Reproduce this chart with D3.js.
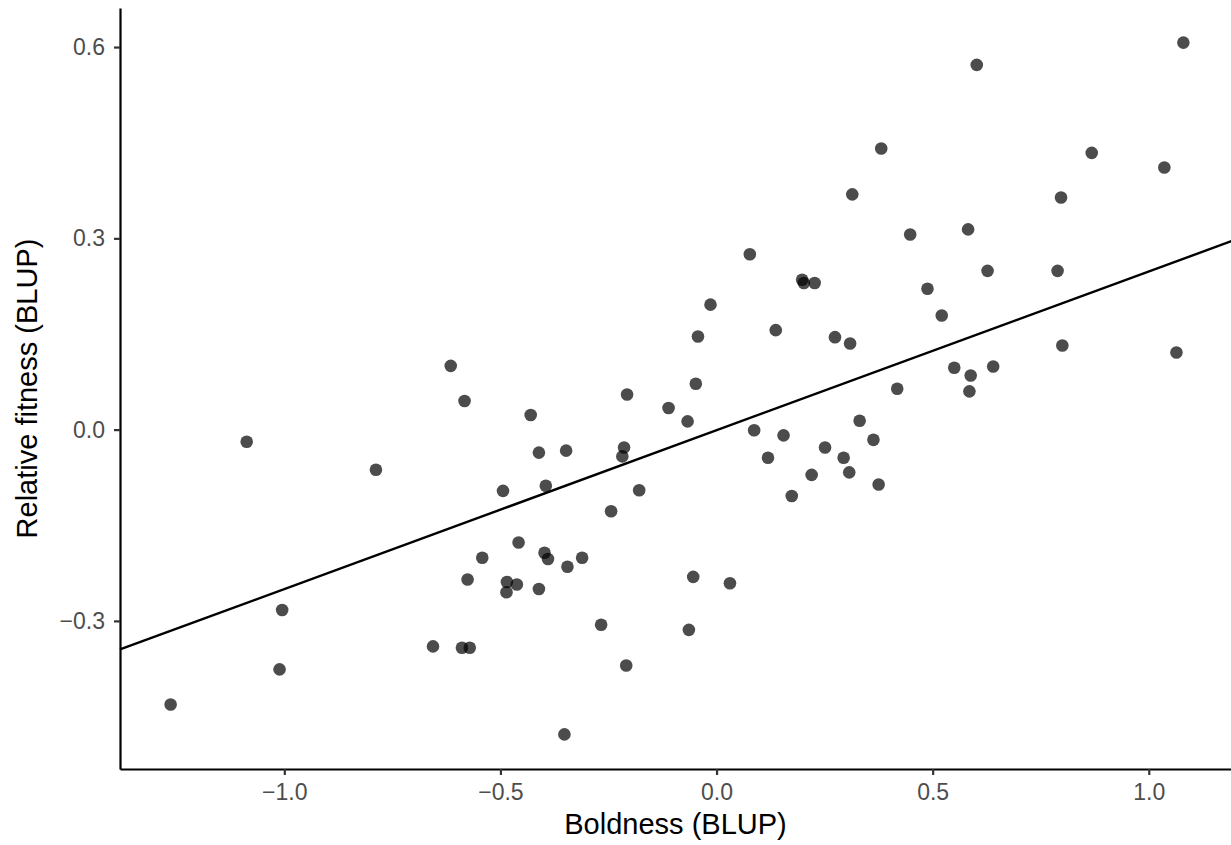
<!DOCTYPE html>
<html>
  <head>
    <meta charset="utf-8">
    <title>boldness fitness</title>
    <script src="https://cdn.jsdelivr.net/npm/d3@7"></script>
    <style>
      body { margin: 0; background: #fff; }
      text { font-family: "Liberation Sans", Arial, sans-serif; }
    </style>
  </head>
  <body>
    <svg width="1231" height="845" id="mainsvg"></svg>
    <script>
      // BLUP estimates
      const boldness = [
        -1.263, -1.087, -1.005, -1.011, -0.788, -0.656, -0.615, -0.583, -0.576, -0.589,
        -0.571, -0.494, -0.485, -0.486, -0.462, -0.458, -0.430, -0.411, -0.395, -0.411,
        -0.398, -0.390, -0.348, -0.345, -0.352, -0.311, -0.267, -0.244, -0.214, -0.218,
        -0.207, -0.209, -0.179, -0.111, -0.067, -0.064, -0.054, -0.048, -0.043, -0.014,
        0.031, 0.077, 0.087, 0.119, 0.137, 0.155, 0.174, 0.198, 0.202, 0.227,
        0.220, 0.251, 0.274, 0.294, 0.309, 0.307, 0.314, 0.331, 0.363, 0.375,
        0.381, 0.418, 0.448, 0.488, 0.521, 0.550, 0.585, 0.582, 0.588, 0.602,
        0.627, 0.640, 0.789, 0.797, 0.800, 0.868, 1.036, 1.064, 1.080, -0.542
      ];
      const fitness = [
        -0.431, -0.019, -0.283, -0.376, -0.063, -0.340, 0.100, 0.045, -0.235, -0.342,
        -0.342, -0.096, -0.239, -0.255, -0.243, -0.177, 0.023, -0.036, -0.088, -0.250,
        -0.193, -0.203, -0.033, -0.215, -0.478, -0.201, -0.306, -0.128, -0.028, -0.042,
        0.055, -0.370, -0.095, 0.034, 0.013, -0.314, -0.231, 0.072, 0.146, 0.196,
        -0.241, 0.275, -0.001, -0.044, 0.156, -0.009, -0.104, 0.235, 0.230, 0.230,
        -0.071, -0.028, 0.145, -0.044, 0.135, -0.067, 0.369, 0.014, -0.016, -0.086,
        0.441, 0.064, 0.306, 0.221, 0.179, 0.097, 0.060, 0.314, 0.085, 0.572,
        0.249, 0.099, 0.249, 0.364, 0.132, 0.434, 0.411, 0.121, 0.607, -0.201
      ];
      const xTicks = [-1.0, -0.5, 0.0, 0.5, 1.0];
      const yTicks = [-0.3, 0.0, 0.3, 0.6];
      // fitted line
      const intercept = -0.001;
      const slope = 0.249;

      const data = boldness.map((b, i) => ({ x: b, y: fitness[i] }));

      const svg = d3.select("#mainsvg");
      const margin = { left: 120, top: 8, right: -3, bottom: 76 };
      const width = +svg.attr("width");
      const height = +svg.attr("height");

      // ggplot-style 5% expansion
      const pad = (ext) => {
        const r = ext[1] - ext[0];
        return [ext[0] - r * 0.05, ext[1] + r * 0.05];
      };
      const x = d3.scaleLinear().domain(pad(d3.extent(boldness))).range([margin.left, width - margin.right]);
      const y = d3.scaleLinear().domain(pad(d3.extent(fitness))).range([height - margin.bottom, margin.top]);

      const g = svg.append("g");

      // points
      g.selectAll(".pt")
        .data(data)
        .join("circle")
        .attr("class", "pt")
        .attr("cx", (d) => x(d.x))
        .attr("cy", (d) => y(d.y))
        .attr("r", 6.3)
        .attr("fill", "#000")
        .attr("fill-opacity", 0.7);

      // regression line
      const [x0, x1] = x.domain();
      g.append("line")
        .attr("x1", x(x0))
        .attr("y1", y(intercept + slope * x0))
        .attr("x2", x(x1))
        .attr("y2", y(intercept + slope * x1))
        .attr("stroke", "#000")
        .attr("stroke-width", 2.4);

      const fmt = (d) => d3.format(".1f")(d).replace("-", "\u2212");

      // axes
      const xAxis = svg.append("g")
        .attr("transform", `translate(0,${y.range()[0]})`)
        .call(d3.axisBottom(x).tickValues(xTicks).tickFormat(fmt).tickSize(6).tickPadding(9).tickSizeOuter(0));
      const yAxis = svg.append("g")
        .attr("transform", `translate(${margin.left},0)`)
        .call(d3.axisLeft(y).tickValues(yTicks).tickFormat(fmt).tickSize(6).tickPadding(9).tickSizeOuter(0));

      [xAxis, yAxis].forEach((a) => {
        a.select(".domain").attr("stroke", "#000").attr("stroke-width", 2.2);
        a.selectAll(".tick line").attr("stroke", "#333").attr("stroke-width", 2.2);
        a.selectAll(".tick text").attr("fill", "#4d4d4d").attr("font-size", 23).attr("font-family", "Liberation Sans, Arial, sans-serif");
      });

      // titles
      const cx = (x.range()[0] + Math.min(x.range()[1], width)) / 2;
      svg.append("text")
        .attr("x", cx)
        .attr("y", 834)
        .attr("text-anchor", "middle")
        .attr("font-size", 29)
        .attr("fill", "#000")
        .text("Boldness (BLUP)");

      const cy = (y.range()[0] + y.range()[1]) / 2;
      svg.append("text")
        .attr("transform", `translate(37,${cy}) rotate(-90)`)
        .attr("text-anchor", "middle")
        .attr("font-size", 29)
        .attr("fill", "#000")
        .text("Relative fitness (BLUP)");
    </script>
  </body>
</html>
